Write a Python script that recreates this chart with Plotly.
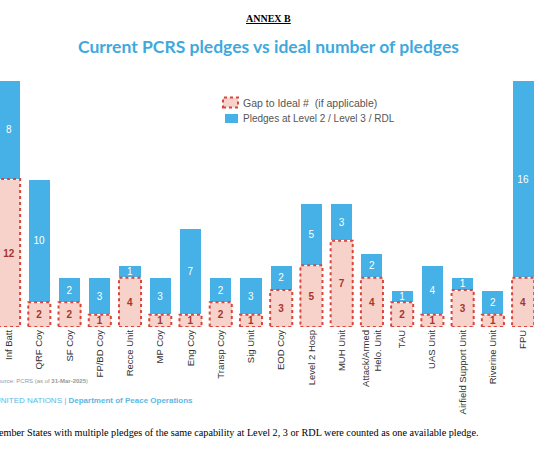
import plotly.graph_objects as go

categories = ["Inf Batt", "QRF Coy", "SF Coy", "FP/BD Coy", "Recce Unit", "MP Coy",
              "Eng Coy", "Transp Coy", "Sig Unit", "EOD Coy", "Level 2 Hosp", "MUH Unit",
              "Attack/Armed<br>Helo. Unit", "TAU", "UAS Unit", "Airfield Support Unit",
              "Riverine Unit", "FPU"]
gap_to_ideal = [12, 2, 2, 1, 4, 1, 1, 2, 1, 3, 5, 7, 4, 2, 1, 3, 1, 4]
pledges = [8, 10, 2, 3, 1, 3, 7, 2, 3, 2, 5, 3, 2, 1, 4, 1, 2, 16]

BLUE = "#45b1e6"
PINK = "#f7d2ca"
RED = "#d8463c"
W = 0.73
FIG_W, FIG_H = 534, 462


def px(x_pixel):
    return x_pixel / FIG_W


def py(y_pixel):
    return (327 - y_pixel) / 265


fig = go.Figure()
fig.add_trace(go.Bar(x=categories, y=gap_to_ideal, name="Gap to Ideal #  (if applicable)",
                     marker=dict(color=PINK, line=dict(width=0)), width=W,
                     text=gap_to_ideal, textposition="inside", insidetextanchor="middle",
                     constraintext="none", textangle=0,
                     textfont=dict(color="#a8352c", size=10, family="Liberation Sans", weight="bold")))
fig.add_trace(go.Bar(x=categories, y=pledges, name="Pledges at Level 2 / Level 3 / RDL",
                     marker=dict(color=BLUE, line=dict(color="white", width=1)), width=W,
                     text=pledges, textposition="inside", insidetextanchor="middle",
                     constraintext="none", textangle=0,
                     textfont=dict(color="white", size=10, family="Liberation Sans")))

# dotted outline round the gap bars
for i, g in enumerate(gap_to_ideal):
    fig.add_shape(type="rect", xref="x", yref="y", x0=i - W / 2, x1=i + W / 2, y0=0, y1=g,
                  line=dict(color=RED, width=2, dash="dot"), layer="above")

# hand-made legend
fig.add_shape(type="rect", xref="paper", yref="paper", x0=px(223), x1=px(238), y0=py(107.5), y1=py(97.5),
              fillcolor=PINK, line=dict(color=RED, width=2, dash="dot"))
fig.add_shape(type="rect", xref="paper", yref="paper", x0=px(225), x1=px(238), y0=py(123), y1=py(114),
              fillcolor=BLUE, line=dict(width=0))
fig.add_annotation(x=px(241), y=py(102.5), text="Gap to Ideal #&nbsp;&nbsp;(if applicable)",
                   font=dict(size=10.5, color="#555"))
fig.add_annotation(x=px(241), y=py(118.5), text="Pledges at Level 2 / Level 3 / RDL",
                   font=dict(size=10, color="#555"))

# header
fig.add_annotation(x=px(268), y=py(18), xanchor="center", text="<b><u>ANNEX B</u></b>",
                   font=dict(family="Liberation Serif", size=10, color="black"))
fig.add_annotation(x=px(268), y=py(46), xanchor="center",
                   text="<b>Current PCRS pledges vs ideal number of pledges</b>",
                   font=dict(family="Lato", size=17.5, color="#3fa9dd"))

# footer (cut off at the left edge, as in the scanned page)
fig.add_annotation(x=0, y=py(381), xshift=-8, text="Source: PCRS (as of <b>31-Mar-2025</b>)",
                   font=dict(size=6, color="#999"))
fig.add_annotation(x=0, y=py(400), xshift=-7, text="UNITED NATIONS | <b>Department of Peace Operations</b>",
                   font=dict(size=8, color="#5bb8e6"))
fig.add_annotation(x=0, y=py(432), xshift=-12,
                   text="Member States with multiple pledges of the same capability at Level 2, 3 or RDL were counted as one available pledge.",
                   font=dict(family="Liberation Serif", size=10.2, color="black"))
fig.update_annotations(xref="paper", yref="paper", showarrow=False, yanchor="middle")
for ann in fig.layout.annotations:
    if ann.xanchor is None:
        ann.xanchor = "left"

fig.update_layout(
    width=FIG_W, height=FIG_H,
    margin=dict(l=0, r=0, t=62, b=135, autoexpand=False),
    barmode="stack",
    plot_bgcolor="white", paper_bgcolor="white",
    showlegend=False,
    font=dict(family="Liberation Sans", color="#333"),
)
fig.update_xaxes(range=[-0.3, 17.36], tickangle=-90, tickfont=dict(size=9.5, color="#333"),
                 showline=False, ticks="", automargin=False)
fig.update_yaxes(range=[0, 21.5], visible=False, automargin=False)

# the default page has an 8px body margin; drop it so the figure fills the window
fig.write_html("out.html", config={"displayModeBar": False},
               post_script="document.body.style.margin = '0';")
